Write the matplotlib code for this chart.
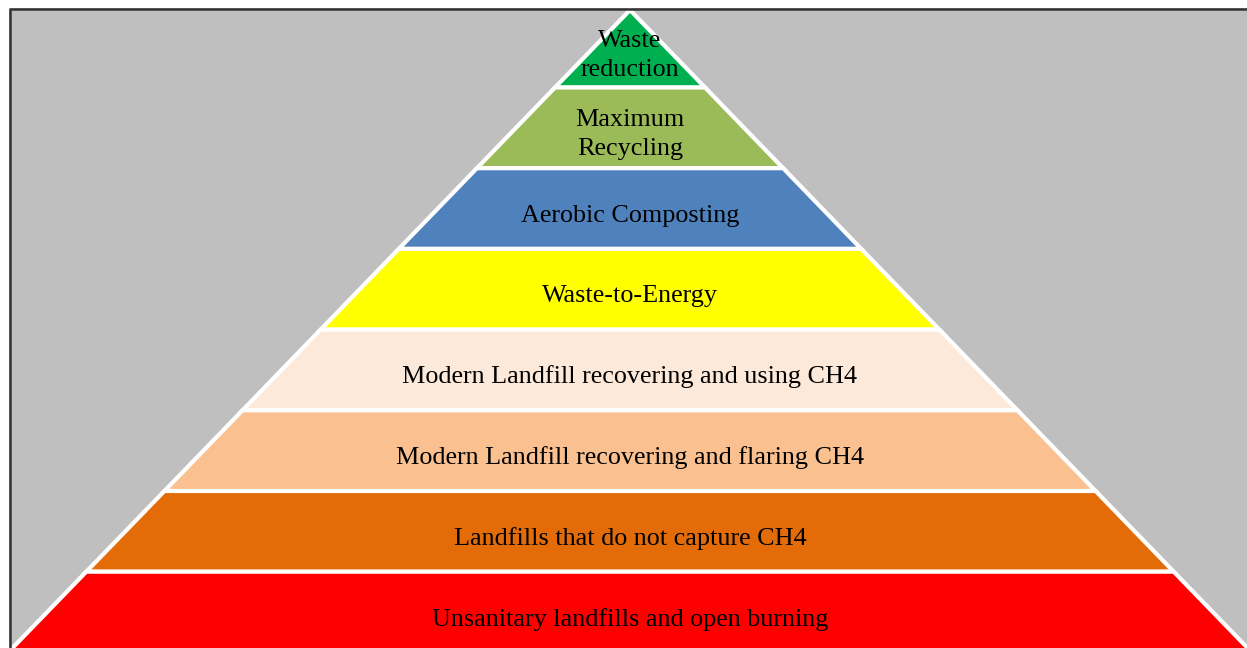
import matplotlib.pyplot as plt
from matplotlib.patches import Polygon, Rectangle

# niveles de la pirámide, de arriba abajo
labels = [
    "Waste\nreduction",
    "Maximum\nRecycling",
    "Aerobic Composting",
    "Waste-to-Energy",
    "Modern Landfill recovering and using CH4",
    "Modern Landfill recovering and flaring CH4",
    "Landfills that do not capture CH4",
    "Unsanitary landfills and open burning",
]
colors = ["#00b050", "#9bbb59", "#4f81bd", "#ffff00",
          "#fde9d9", "#fac090", "#e36c09", "#ff0000"]

W, H = 1247, 648
fig = plt.figure(figsize=(W / 100, H / 100), dpi=100)
ax = fig.add_axes([0, 0, 1, 1])
ax.set_xlim(0, W)
ax.set_ylim(H, 0)
ax.axis("off")

# fondo gris con borde negro arriba y a la izquierda
ax.add_patch(Rectangle((9, 8), W, H, facecolor="#bfbfbf", edgecolor="none"))
ax.plot([9.5, 9.5, W], [H, 8.5, 8.5], color="#333333", lw=1.8)

apex_x, apex_y = 630, 10
first, step = 87.5, 80.7
slope = 0.968

# límites verticales de cada nivel
bounds = [apex_y] + [first + k * step for k in range(len(labels))]

for i, (lab, col) in enumerate(zip(labels, colors)):
    y0, y1 = bounds[i], bounds[i + 1]
    h0 = (y0 - apex_y) * slope
    h1 = (y1 - apex_y) * slope
    if i == 0:
        pts = [(apex_x, y0), (apex_x + h1, y1), (apex_x - h1, y1)]
    else:
        pts = [(apex_x - h0, y0), (apex_x + h0, y0), (apex_x + h1, y1), (apex_x - h1, y1)]
    ax.add_patch(Polygon(pts, closed=True, facecolor=col, edgecolor="white", lw=3))
    yc = (y0 + y1) / 2 + 7
    ax.text(apex_x, yc, lab, ha="center", va="center", fontsize=18.8,
            family="Liberation Serif", color="black", linespacing=1.4)

fig.savefig("out.png", dpi=100)
